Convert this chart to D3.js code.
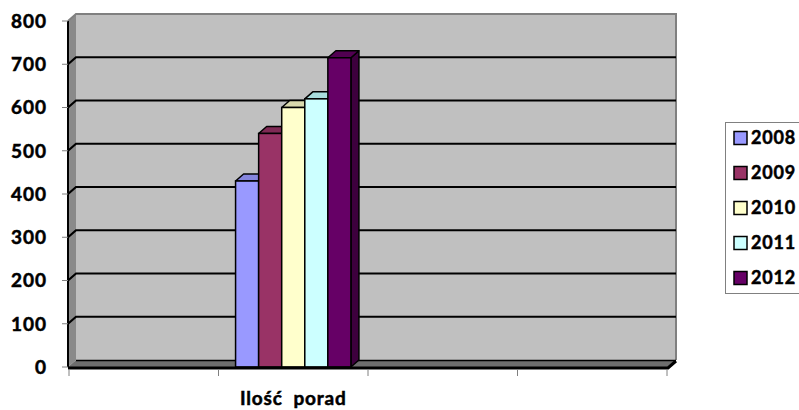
<!DOCTYPE html>
<html>
<head>
<meta charset="utf-8">
<script src="https://cdn.jsdelivr.net/npm/d3@7"></script>
<style>
  body { margin: 0; background: #fff; }
  text { font-family: Lato, "Open Sans", sans-serif; font-weight: bold; fill: #000;
         stroke: #000; stroke-width: 0.5px; }
</style>
</head>
<body>
<div id="chart"></div>
<script>
// data
const categories = ['', 'Ilość  porad', '', ''];
const years = ['2008', '2009', '2010', '2011', '2012'];
const values = [430, 540, 600, 620, 715];
const yTicks = [0, 100, 200, 300, 400, 500, 600, 700, 800];

const width = 799;
const height = 410;
const dx = 8, dy = -7; // 3d depth offset

const colors = ['#9999ff', '#993366', '#ffffcc', '#ccffff', '#660066'];
const sideColors = ['#6b6bb3', '#6b2447', '#b3b38f', '#8fb3b3', '#3d003d'];
const topColors = ['#8585dd', '#7f2a55', '#d9d9ad', '#a9dede', '#520052'];

const svg = d3.select('#chart').append('svg')
    .attr('width', width)
    .attr('height', height);

const y = d3.scaleLinear().domain([0, 800]).range([367, 21]);
const x0 = d3.scaleBand().domain(d3.range(categories.length)).range([69, 667]);
const x1 = d3.scaleBand().domain(years).range([0, x0.bandwidth()]).paddingOuter(0.74);

const left = 68, right = 668;

// left wall
svg.append('polygon')
    .attr('points', [[left, y(0)], [left + dx, y(0) + dy], [left + dx, y(800) + dy], [left, y(800)]].join(' '))
    .attr('fill', '#8a8a8a');

// back wall
svg.append('rect')
    .attr('x', left + dx)
    .attr('y', y(800) + dy)
    .attr('width', right - left)
    .attr('height', y(0) - y(800))
    .attr('fill', '#c0c0c0');

// border of the walls
svg.append('path')
    .attr('d', `M${left},${y(800)}L${left + dx},${y(800) + dy}H${right + dx}V${y(0) + dy}`)
    .attr('fill', 'none')
    .attr('stroke', '#808080')
    .attr('stroke-width', 2);

// gridlines
const grid = yTicks.filter(d => d > 0 && d < 800);
svg.selectAll('.grid')
    .data(grid)
    .enter().append('path')
    .attr('class', 'grid')
    .attr('d', d => `M${left},${y(d)}L${left + dx},${y(d) + dy}H${right + dx}`)
    .attr('fill', 'none')
    .attr('stroke', '#000')
    .attr('stroke-width', 2.2);

// floor
svg.append('polygon')
    .attr('points', [[left, y(0)], [left + dx, y(0) + dy], [right + dx, y(0) + dy], [right, y(0)]].join(' '))
    .attr('fill', '#6e6e6e');
svg.append('line')
    .attr('x1', left + dx).attr('x2', right + dx)
    .attr('y1', y(0) + dy + 0.5).attr('y2', y(0) + dy + 0.5)
    .attr('stroke', '#000').attr('stroke-width', 1.5);

// value axis line (front edge of left wall)
svg.append('line')
    .attr('x1', left).attr('x2', left)
    .attr('y1', y(800)).attr('y2', y(0))
    .attr('stroke', '#000').attr('stroke-width', 2);

// bars
const g = svg.append('g').attr('transform', `translate(${x0(1)},0)`);
const w = x1.bandwidth();
years.forEach((yr, i) => {
    const bx = x1(yr), top = y(values[i]), bot = y(0);
    const bar = g.append('g');
    bar.append('polygon')
        .attr('points', [[bx + w, top], [bx + w + dx, top + dy], [bx + w + dx, bot + dy], [bx + w, bot]].join(' '))
        .attr('fill', sideColors[i]).attr('stroke', '#000').attr('stroke-width', 1.5).attr('stroke-linejoin', 'round');
    bar.append('polygon')
        .attr('points', [[bx, top], [bx + dx, top + dy], [bx + w + dx, top + dy], [bx + w, top]].join(' '))
        .attr('fill', topColors[i]).attr('stroke', '#000').attr('stroke-width', 1.5).attr('stroke-linejoin', 'round');
    bar.append('rect')
        .attr('x', bx).attr('y', top)
        .attr('width', w).attr('height', bot - top)
        .attr('fill', colors[i]).attr('stroke', '#000').attr('stroke-width', 1.5);
});

// front edge of floor
svg.append('path')
    .attr('d', `M${left},${y(0) + 1}H${right}L${right + dx},${y(0) + dy + 1}`)
    .attr('fill', 'none')
    .attr('stroke', '#000')
    .attr('stroke-width', 3);

// value ticks and labels
svg.selectAll('.ytick')
    .data(yTicks)
    .enter().append('line')
    .attr('x1', 62).attr('x2', left)
    .attr('y1', d => y(d)).attr('y2', d => y(d))
    .attr('stroke', '#808080').attr('stroke-width', 1);
svg.selectAll('.ylab')
    .data(yTicks)
    .enter().append('text')
    .attr('x', 47)
    .attr('y', d => y(d))
    .attr('dy', '0.36em')
    .attr('text-anchor', 'end')
    .style('font-size', '19px')
    .style('letter-spacing', '1px')
    .text(d => d);

// category ticks and labels
const catTicks = d3.range(categories.length + 1).map(i => i < categories.length ? x0(i) : x0(i - 1) + x0.bandwidth());
svg.selectAll('.xtick')
    .data(catTicks)
    .enter().append('line')
    .attr('x1', d => d).attr('x2', d => d)
    .attr('y1', y(0) + 2).attr('y2', y(0) + 9)
    .attr('stroke', '#808080').attr('stroke-width', 1);
svg.selectAll('.xlab')
    .data(categories)
    .enter().append('text')
    .attr('x', (d, i) => x0(i) + x0.bandwidth() / 2)
    .attr('y', 405)
    .attr('text-anchor', 'middle')
    .style('font-size', '19px')
    .style('letter-spacing', '0.8px')
    .style('white-space', 'pre')
    .text(d => d);

// legend
const legend = svg.append('g');
legend.append('rect')
    .attr('x', 725.5).attr('y', 122.5)
    .attr('width', 90).attr('height', 171)
    .attr('fill', '#fff').attr('stroke', '#808080')
    .attr('stroke-width', 1);
const items = legend.selectAll('.item')
    .data(years)
    .enter().append('g')
    .attr('transform', (d, i) => `translate(734,${138 + i * 35})`);
items.append('rect')
    .attr('x', 0).attr('y', -6.5)
    .attr('width', 13).attr('height', 13)
    .attr('fill', (d, i) => colors[i])
    .attr('stroke', '#000').attr('stroke-width', 1.5);
items.append('text')
    .attr('x', 17)
    .attr('dy', '0.36em')
    .style('font-size', '18px')
    .style('letter-spacing', '0.8px')
    .text(d => d);
</script>
</body>
</html>
